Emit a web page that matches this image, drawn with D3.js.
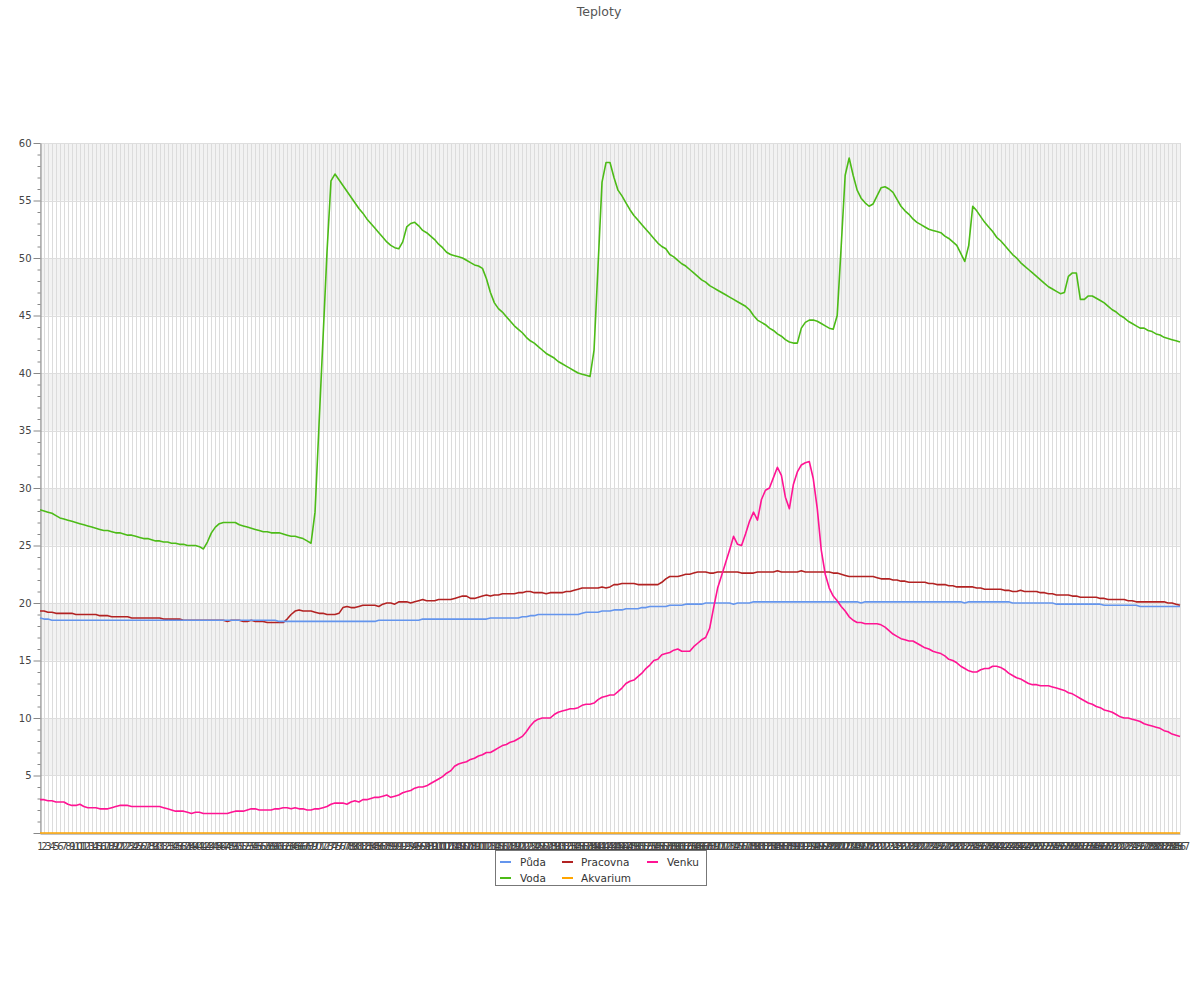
<!DOCTYPE html>
<html><head><meta charset="utf-8">
<script src="https://cdn.jsdelivr.net/npm/d3@7"></script>
<style>body{margin:0;background:#fff;} text{font-family:"DejaVu Sans",sans-serif;}</style>
</head><body>
<svg id="chart" width="1200" height="1000"></svg>
<script>
const chartTitle = "Teploty";
const categories = d3.range(1, 288).map(String);
const yTickLabels = [5,10,15,20,25,30,35,40,45,50,55,60];
const seriesNames = ["Půda","Voda","Pracovna","Akvarium","Venku"];
const seriesColors = ["#6495ed","#4cbb17","#b22222","#ffa500","#ff1493"];

const puda = [
18.7,18.6,18.6,18.5,18.5,18.5,18.5,18.5,18.5,18.5,
18.5,18.5,18.5,18.5,18.5,18.5,18.5,18.5,18.5,18.5,
18.5,18.5,18.5,18.5,18.5,18.5,18.5,18.5,18.5,18.5,
18.5,18.5,18.5,18.5,18.5,18.5,18.5,18.5,18.5,18.5,
18.5,18.5,18.5,18.5,18.5,18.5,18.5,18.5,18.5,18.5,
18.5,18.5,18.5,18.5,18.5,18.5,18.5,18.5,18.5,18.5,
18.4,18.4,18.4,18.4,18.4,18.4,18.4,18.4,18.4,18.4,
18.4,18.4,18.4,18.4,18.4,18.4,18.4,18.4,18.4,18.4,
18.4,18.4,18.4,18.4,18.4,18.5,18.5,18.5,18.5,18.5,
18.5,18.5,18.5,18.5,18.5,18.5,18.6,18.6,18.6,18.6,
18.6,18.6,18.6,18.6,18.6,18.6,18.6,18.6,18.6,18.6,
18.6,18.6,18.6,18.7,18.7,18.7,18.7,18.7,18.7,18.7,
18.7,18.8,18.8,18.9,18.9,19.0,19.0,19.0,19.0,19.0,
19.0,19.0,19.0,19.0,19.0,19.0,19.1,19.2,19.2,19.2,
19.2,19.3,19.3,19.3,19.4,19.4,19.4,19.5,19.5,19.5,
19.5,19.6,19.6,19.7,19.7,19.7,19.7,19.7,19.8,19.8,
19.8,19.8,19.9,19.9,19.9,19.9,19.9,20.0,20.0,20.0,
20.0,20.0,20.0,20.0,19.9,20.0,20.0,20.0,20.0,20.1,
20.1,20.1,20.1,20.1,20.1,20.1,20.1,20.1,20.1,20.1,
20.1,20.1,20.1,20.1,20.1,20.1,20.1,20.1,20.1,20.1,
20.1,20.1,20.1,20.1,20.1,20.1,20.0,20.1,20.1,20.1,
20.1,20.1,20.1,20.1,20.1,20.1,20.1,20.1,20.1,20.1,
20.1,20.1,20.1,20.1,20.1,20.1,20.1,20.1,20.1,20.1,
20.1,20.1,20.0,20.1,20.1,20.1,20.1,20.1,20.1,20.1,
20.1,20.1,20.1,20.1,20.0,20.0,20.0,20.0,20.0,20.0,
20.0,20.0,20.0,20.0,20.0,19.9,19.9,19.9,19.9,19.9,
19.9,19.9,19.9,19.9,19.9,19.9,19.9,19.8,19.8,19.8,
19.8,19.8,19.8,19.8,19.8,19.8,19.7,19.7,19.7,19.7,
19.7,19.7,19.7,19.7,19.7,19.7,19.7
];

const voda = [
28.1,28.0,27.9,27.8,27.6,27.4,27.3,27.2,27.1,27.0,
26.9,26.8,26.7,26.6,26.5,26.4,26.3,26.3,26.2,26.1,
26.1,26.0,25.9,25.9,25.8,25.7,25.6,25.6,25.5,25.4,
25.4,25.3,25.3,25.2,25.2,25.1,25.1,25.0,25.0,25.0,
24.9,24.7,25.3,26.1,26.6,26.9,27.0,27.0,27.0,27.0,
26.8,26.7,26.6,26.5,26.4,26.3,26.2,26.2,26.1,26.1,
26.1,26.0,25.9,25.8,25.8,25.7,25.6,25.4,25.2,27.9,
35.5,43.0,50.5,56.7,57.3,56.8,56.3,55.8,55.3,54.8,
54.3,53.9,53.4,53.0,52.6,52.2,51.8,51.4,51.1,50.9,
50.8,51.4,52.7,53.0,53.1,52.8,52.4,52.2,51.9,51.6,
51.2,50.9,50.5,50.3,50.2,50.1,50.0,49.8,49.6,49.4,
49.3,49.1,48.2,47.0,46.1,45.6,45.3,44.9,44.5,44.1,
43.8,43.5,43.1,42.8,42.6,42.3,42.0,41.7,41.5,41.3,
41.0,40.8,40.6,40.4,40.2,40.0,39.9,39.8,39.7,42.0,
49.3,56.6,58.3,58.3,57.0,55.9,55.4,54.8,54.2,53.7,
53.3,52.9,52.5,52.1,51.7,51.3,51.0,50.8,50.3,50.1,
49.8,49.5,49.3,49.0,48.7,48.4,48.1,47.9,47.6,47.4,
47.2,47.0,46.8,46.6,46.4,46.2,46.0,45.8,45.5,45.0,
44.6,44.4,44.2,43.9,43.7,43.4,43.2,42.9,42.7,42.6,
42.6,43.9,44.4,44.6,44.6,44.5,44.3,44.1,43.9,43.8,
45.0,51.0,57.2,58.7,57.2,55.9,55.2,54.8,54.5,54.7,
55.4,56.1,56.2,56.0,55.7,55.1,54.5,54.1,53.8,53.4,
53.1,52.9,52.7,52.5,52.4,52.3,52.2,51.9,51.7,51.4,
51.1,50.4,49.7,51.1,54.5,54.1,53.6,53.1,52.7,52.3,
51.8,51.5,51.1,50.7,50.3,50.0,49.6,49.3,49.0,48.7,
48.4,48.1,47.8,47.5,47.3,47.1,46.9,47.0,48.4,48.7,
48.7,46.4,46.4,46.7,46.7,46.5,46.3,46.1,45.8,45.5,
45.3,45.0,44.8,44.5,44.3,44.1,43.9,43.9,43.7,43.6,
43.4,43.3,43.1,43.0,42.9,42.8,42.7
];

const pracovna = [
19.3,19.3,19.2,19.2,19.1,19.1,19.1,19.1,19.1,19.0,
19.0,19.0,19.0,19.0,19.0,18.9,18.9,18.9,18.8,18.8,
18.8,18.8,18.8,18.7,18.7,18.7,18.7,18.7,18.7,18.7,
18.7,18.6,18.6,18.6,18.6,18.6,18.5,18.5,18.5,18.5,
18.5,18.5,18.5,18.5,18.5,18.5,18.5,18.4,18.5,18.5,
18.5,18.4,18.4,18.5,18.4,18.4,18.4,18.3,18.3,18.3,
18.3,18.3,18.6,19.0,19.3,19.4,19.3,19.3,19.3,19.2,
19.1,19.1,19.0,19.0,19.0,19.1,19.6,19.7,19.6,19.6,
19.7,19.8,19.8,19.8,19.8,19.7,19.9,20.0,20.0,19.9,
20.1,20.1,20.1,20.0,20.1,20.2,20.3,20.2,20.2,20.2,
20.3,20.3,20.3,20.3,20.4,20.5,20.6,20.6,20.4,20.4,
20.5,20.6,20.7,20.6,20.7,20.7,20.8,20.8,20.8,20.8,
20.9,20.9,21.0,21.0,20.9,20.9,20.9,20.8,20.9,20.9,
20.9,20.9,21.0,21.0,21.1,21.2,21.3,21.3,21.3,21.3,
21.3,21.4,21.3,21.4,21.6,21.6,21.7,21.7,21.7,21.7,
21.6,21.6,21.6,21.6,21.6,21.6,21.8,22.1,22.3,22.3,
22.3,22.4,22.5,22.5,22.6,22.7,22.7,22.7,22.6,22.6,
22.7,22.7,22.7,22.7,22.7,22.7,22.6,22.6,22.6,22.6,
22.7,22.7,22.7,22.7,22.7,22.8,22.7,22.7,22.7,22.7,
22.7,22.8,22.7,22.7,22.7,22.7,22.7,22.7,22.7,22.6,
22.6,22.5,22.4,22.3,22.3,22.3,22.3,22.3,22.3,22.3,
22.2,22.1,22.1,22.1,22.0,22.0,21.9,21.9,21.8,21.8,
21.8,21.8,21.8,21.7,21.7,21.6,21.6,21.6,21.5,21.5,
21.4,21.4,21.4,21.4,21.4,21.3,21.3,21.2,21.2,21.2,
21.2,21.2,21.1,21.1,21.0,21.0,21.1,21.0,21.0,21.0,
21.0,20.9,20.9,20.8,20.8,20.7,20.7,20.7,20.7,20.6,
20.6,20.5,20.5,20.5,20.5,20.5,20.4,20.4,20.3,20.3,
20.3,20.3,20.3,20.2,20.2,20.1,20.1,20.1,20.1,20.1,
20.1,20.1,20.1,20.0,20.0,19.9,19.8
];

const akvarium = [
0,0,0,0,0,0,0,0,0,0, 0,0,0,0,0,0,0,0,0,0,
0,0,0,0,0,0,0,0,0,0, 0,0,0,0,0,0,0,0,0,0,
0,0,0,0,0,0,0,0,0,0, 0,0,0,0,0,0,0,0,0,0,
0,0,0,0,0,0,0,0,0,0, 0,0,0,0,0,0,0,0,0,0,
0,0,0,0,0,0,0,0,0,0, 0,0,0,0,0,0,0,0,0,0,
0,0,0,0,0,0,0,0,0,0, 0,0,0,0,0,0,0,0,0,0,
0,0,0,0,0,0,0,0,0,0, 0,0,0,0,0,0,0,0,0,0,
0,0,0,0,0,0,0,0,0,0, 0,0,0,0,0,0,0,0,0,0,
0,0,0,0,0,0,0,0,0,0, 0,0,0,0,0,0,0,0,0,0,
0,0,0,0,0,0,0,0,0,0, 0,0,0,0,0,0,0,0,0,0,
0,0,0,0,0,0,0,0,0,0, 0,0,0,0,0,0,0,0,0,0,
0,0,0,0,0,0,0,0,0,0, 0,0,0,0,0,0,0,0,0,0,
0,0,0,0,0,0,0,0,0,0, 0,0,0,0,0,0,0,0,0,0,
0,0,0,0,0,0,0,0,0,0, 0,0,0,0,0,0,0,0,0,0,
0,0,0,0,0,0,0
];

const venku = [
2.9,2.9,2.8,2.8,2.7,2.7,2.7,2.5,2.4,2.4,
2.5,2.3,2.2,2.2,2.2,2.1,2.1,2.1,2.2,2.3,
2.4,2.4,2.4,2.3,2.3,2.3,2.3,2.3,2.3,2.3,
2.3,2.2,2.1,2.0,1.9,1.9,1.9,1.8,1.7,1.8,
1.8,1.7,1.7,1.7,1.7,1.7,1.7,1.7,1.8,1.9,
1.9,1.9,2.0,2.1,2.1,2.0,2.0,2.0,2.0,2.1,
2.1,2.2,2.2,2.1,2.2,2.1,2.1,2.0,2.0,2.1,
2.1,2.2,2.3,2.5,2.6,2.6,2.6,2.5,2.7,2.8,
2.7,2.9,2.9,3.0,3.1,3.1,3.2,3.3,3.1,3.2,
3.3,3.5,3.6,3.7,3.9,4.0,4.0,4.1,4.3,4.5,
4.7,4.9,5.2,5.4,5.8,6.0,6.1,6.2,6.4,6.5,
6.7,6.8,7.0,7.0,7.2,7.4,7.6,7.7,7.9,8.0,
8.2,8.4,8.8,9.3,9.7,9.9,10.0,10.0,10.0,10.3,
10.5,10.6,10.7,10.8,10.8,10.9,11.1,11.2,11.2,11.3,
11.6,11.8,11.9,12.0,12.0,12.3,12.6,13.0,13.2,13.3,
13.6,13.9,14.3,14.6,15.0,15.1,15.5,15.6,15.7,15.9,
16.0,15.8,15.8,15.8,16.2,16.5,16.8,17.0,17.8,19.6,
21.3,22.4,23.5,24.6,25.8,25.1,25.0,26.0,27.1,27.9,
27.2,29.0,29.8,30.0,30.9,31.8,31.1,29.2,28.2,30.3,
31.4,32.0,32.2,32.3,30.8,28.2,24.6,22.5,21.3,20.6,
20.2,19.7,19.3,18.8,18.5,18.3,18.3,18.2,18.2,18.2,
18.2,18.1,17.9,17.6,17.3,17.1,16.9,16.8,16.7,16.7,
16.5,16.3,16.1,16.0,15.8,15.7,15.6,15.4,15.1,15.0,
14.8,14.5,14.3,14.1,14.0,14.0,14.2,14.3,14.3,14.5,
14.5,14.4,14.2,13.9,13.7,13.5,13.4,13.2,13.0,12.9,
12.9,12.8,12.8,12.8,12.7,12.6,12.5,12.4,12.2,12.1,
11.9,11.7,11.5,11.3,11.2,11.0,10.9,10.7,10.6,10.5,
10.3,10.1,10.0,10.0,9.9,9.8,9.7,9.5,9.4,9.3,
9.2,9.1,8.9,8.8,8.6,8.5,8.4
];

const seriesValues = [puda, voda, pracovna, akvarium, venku];
const series = seriesNames.map((n,i)=>({name:n, color:seriesColors[i], values:seriesValues[i]}));

const svg = d3.select("#chart");
const L = 40, R = 1180, T = 143, B = 833;
const x = d3.scalePoint().domain(categories).range([L, R]);
const y = d3.scaleLinear().domain([0, 60]).range([B, T]);

// title
svg.append("text").attr("x", 599).attr("y", 16).attr("text-anchor","middle")
  .attr("font-size", "12.5px").attr("fill", "#555").text(chartTitle);

// alternating bands
const bandStarts = yTickLabels.filter((v,i)=> i % 2 === 0);
svg.append("g").selectAll("rect").data(bandStarts).join("rect")
  .attr("x", L).attr("width", R - L)
  .attr("y", d => y(d + 5)).attr("height", d => y(d) - y(d + 5))
  .attr("fill", "#f2f2f2");

// vertical grid
svg.append("g").selectAll("line").data(categories).join("line")
  .attr("x1", d => Math.round(x(d)) + 0.5).attr("x2", d => Math.round(x(d)) + 0.5)
  .attr("y1", T).attr("y2", B).attr("stroke", "#dcdcdc").attr("stroke-width", 1);

// horizontal grid
svg.append("g").selectAll("line").data(yTickLabels).join("line")
  .attr("x1", L).attr("x2", R)
  .attr("y1", d => Math.round(y(d)) + 0.5).attr("y2", d => Math.round(y(d)) + 0.5)
  .attr("stroke", "#dedede").attr("stroke-width", 1);

// y axis minor ticks
const minorVals = d3.range(0, 61).filter(v => v % 5 !== 0);
const yMinor = svg.append("g").attr("transform", `translate(${L + 0.5},0)`)
  .call(d3.axisLeft(y).tickValues(minorVals).tickSize(3).tickFormat(""));
yMinor.select(".domain").remove();
yMinor.selectAll("line").attr("stroke", "#888");

// y axis major
const yAxis = svg.append("g").attr("transform", `translate(${L + 0.5},0)`)
  .call(d3.axisLeft(y).tickValues([0].concat(yTickLabels)).tickSize(7).tickSizeOuter(0)
    .tickFormat(d => d === 0 ? "" : d));
yAxis.select(".domain").attr("stroke", "#888");
yAxis.selectAll("line").attr("stroke", "#888");
yAxis.selectAll("text").attr("font-size", "10px").attr("fill", "#444")
  .attr("font-family", "DejaVu Sans").attr("x", -9);

// x axis
const xAxis = svg.append("g").attr("transform", `translate(0,${B + 0.5})`)
  .call(d3.axisBottom(x).tickSize(0).tickSizeOuter(0).tickPadding(9));
xAxis.select(".domain").attr("stroke", "#888");
xAxis.selectAll("text").attr("font-size", "10px").attr("fill", "#444")
  .attr("font-family", "DejaVu Sans");

// lines
const line = d3.line().x((d,i) => x(categories[i])).y(d => y(d));
const drawOrder = [1, 2, 0, 4, 3];
svg.append("g").selectAll("path").data(drawOrder.map(i => series[i])).join("path")
  .attr("d", s => line(s.values)).attr("fill", "none")
  .attr("stroke", s => s.color).attr("stroke-width", 1.6)
  .attr("stroke-linejoin", "round");

// legend
const lg = svg.append("g");
lg.append("rect").attr("x", 495.5).attr("y", 850.5).attr("width", 211).attr("height", 35)
  .attr("fill", "#fff").attr("stroke", "#777");
const colX = [500, 562, 647];
const textX = [520, 581, 667];
series.forEach((s, i) => {
  const c = Math.floor(i / 2), r = i % 2;
  const yy = 862 + r * 16;
  lg.append("line").attr("x1", colX[c]).attr("x2", colX[c] + 11)
    .attr("y1", yy).attr("y2", yy).attr("stroke", s.color).attr("stroke-width", 2);
  lg.append("text").attr("x", textX[c]).attr("y", yy + 3.5)
    .attr("font-size", "10.5px").attr("fill", "#333").text(s.name);
});
</script>
</body></html>
